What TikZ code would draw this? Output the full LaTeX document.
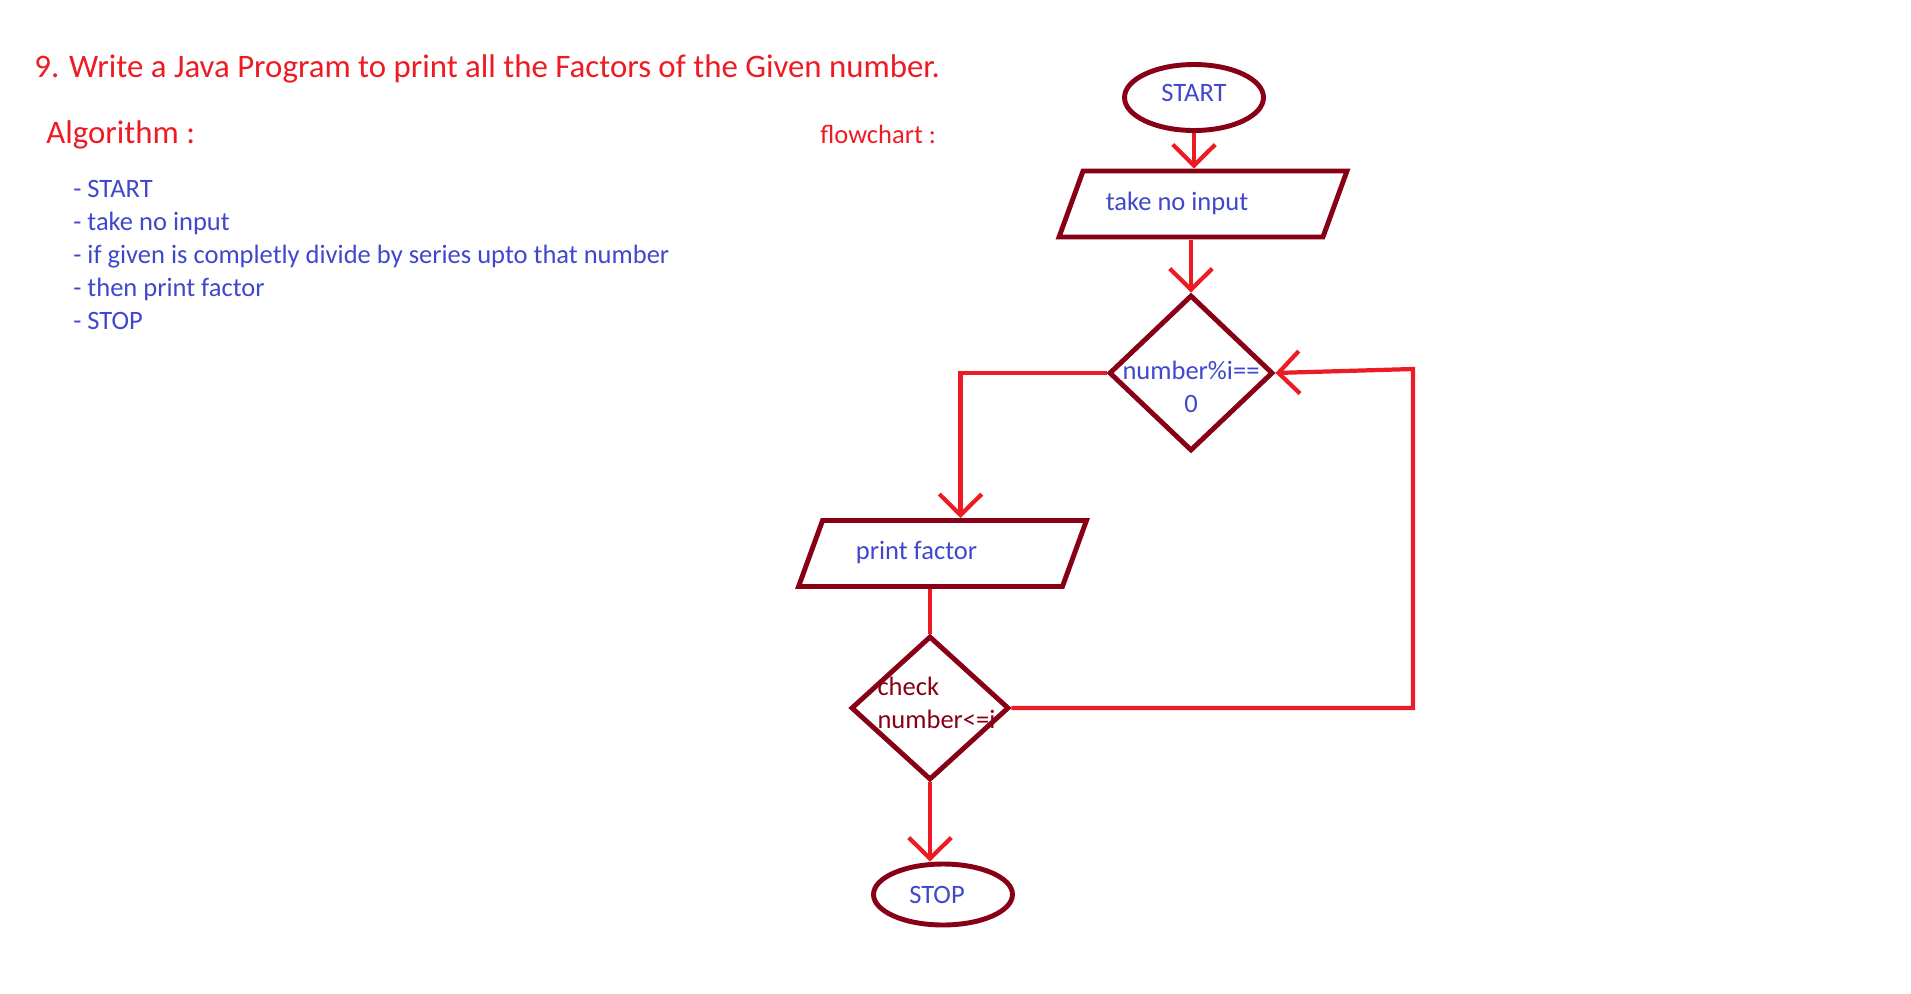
\documentclass[tikz,border=0pt]{standalone}
\usepackage{fontspec}
\setmainfont{Carlito}
\usetikzlibrary{arrows.meta,shapes.geometric}
\definecolor{paintred}{RGB}{237,28,36}
\definecolor{darkred}{RGB}{136,0,21}
\definecolor{paintblue}{RGB}{63,72,204}
\tikzset{
  bigtxt/.style={font=\fontsize{18.7}{22}\selectfont,text=paintred,inner sep=0pt},
  smalltxt/.style={font=\fontsize{15.1}{18.8}\selectfont,inner sep=0pt},
  terminal/.style={draw=darkred,line width=2.8pt,ellipse,minimum width=2.78cm,inner sep=0pt,smalltxt,text=paintblue},
  iobox/.style={draw=darkred,line width=2.8pt,trapezium,trapezium left angle=70,trapezium right angle=110,trapezium stretches body,minimum width=5.76cm,smalltxt,text height=10pt,text depth=3pt,inner ysep=12.3pt,text=paintblue},
  decision/.style={draw=darkred,line width=2.8pt,diamond,inner sep=0pt},
  flow/.style={draw=paintred,line width=2.4pt},
  arr/.style={flow,-{Straight Barb[length=4.2mm,width=8.5mm]}},
}
\begin{document}
\begin{tikzpicture}[x=0.02cm,y=-0.02cm]
\useasboundingbox (0,0) rectangle (1911,994);
\node[bigtxt,anchor=base west] (title) at (34,77.5) {9. Write a Java Program to print all the Factors of the Given number.};
\node[bigtxt,anchor=base west] (algo) at (46,143) {Algorithm :};
\node[smalltxt,text=paintred,anchor=base west] (fchart) at (820,143.5) {flowchart :};
\foreach \itm [count=\k] in {- START,- take no input,- if given is completly divide by series upto that number,- then print factor,- STOP}
  \node[smalltxt,text=paintblue,anchor=base west] (alg\k) at (73,{164.5+33*\k}) {\itm};

\node[terminal,minimum height=1.32cm] (start) at (1194,97.5) {\raisebox{0.1cm}[\height][\depth]{START}};
\node[iobox] (input) at (1203,204) {take no input\kern1.04cm};
\node[decision,minimum width=3.28cm,minimum height=3.12cm,label={[smalltxt,text=paintblue,align=center,yshift=-0.27cm]center:{number\%i==\\0}}] (divides) at (1191,373) {};
\node[iobox] (print) at (942.5,553.5) {print factor\kern1.04cm};
\node[decision,minimum width=3.16cm,minimum height=2.88cm,label={[smalltxt,text=darkred,align=left,xshift=0.13cm,yshift=0.11cm]center:{check\\number<=i}}] (check) at (930,708) {};
\node[terminal,minimum height=1.22cm] (stop) at (943,894.5) {STOP\kern0.24cm};
\coordinate (back) at (1413,369);

\draw[arr] (start.south) -- (start.south |- input.north);
\draw[arr] (divides.north |- input.south) -- (divides.north);
\draw[arr] (divides.west) -| ([xshift=0.36cm]print.north);
\draw[flow] (check.north |- print.south) -- (check.north);
\draw[arr] (check.south) -- (check.south |- stop.north);
\draw[arr] (check.east) -| (back) -- (divides.east);
\end{tikzpicture}
\end{document}
